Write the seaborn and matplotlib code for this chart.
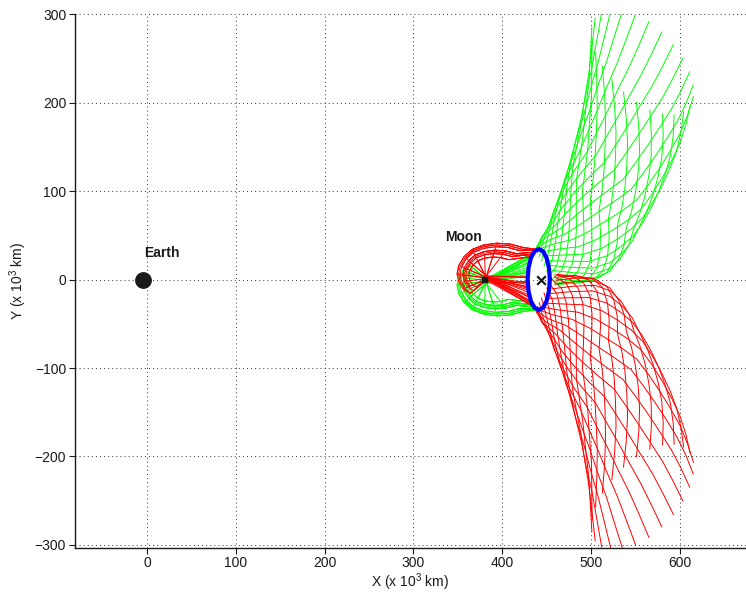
import matplotlib
matplotlib.use("Agg")
import matplotlib.pyplot as plt
import pandas as pd
import seaborn as sns

# ---------------- data (units: 10^3 km) ----------------
X_TICKS = [0, 100, 200, 300, 400, 500, 600]
Y_TICKS = [-300, -200, -100, 0, 100, 200, 300]

EARTH_XY = (-4.7, 0.0)
MOON_XY = (380.0, 0.0)
L2_XY = (444.0, 0.0)
EARTH_LABEL = ("Earth", 16.5, 30.0)
MOON_LABEL = ("Moon", 356.0, 48.6)

# halo orbit about L2 (blue)
HALO_X = [453.5, 452.5, 449.8, 445.8, 441.0, 436.2, 432.2, 429.5, 428.5, 429.5,
          432.2, 436.2, 441.0, 445.8, 449.8, 452.5, 453.5]
HALO_Y = [0.0, 13.2, 24.4, 31.9, 34.5, 31.9, 24.4, 13.2, 0.0, -13.2,
          -24.4, -31.9, -34.5, -31.9, -24.4, -13.2, 0.0]

# unstable manifold, exterior branch (green, upper right)
GREEN_OUT_X = [
    [462, 482.5, 497.3, 506.4, 510, 510.5, 508.9, 512.2, 514.5, 515.7, 516.2, 515.1, 512.6],
    [461.6, 483.8, 501.4, 513, 518.4, 520.3, 519.5, 523.3, 526, 527.4, 528, 526.4, 523.3],
    [460.4, 483.8, 504.1, 518, 525.5, 529.3, 529.8, 534.7, 538, 540.1, 541, 539.5, 536.4],
    [458.5, 482.5, 505, 521, 530.8, 537, 539.5, 545.5, 549.8, 553, 554.5, 553.6, 551],
    [456, 479.9, 504.1, 522, 534.1, 542.7, 547.6, 554.9, 560.5, 564.9, 567.6, 567.8, 566],
    [453.1, 476.2, 501.4, 520.8, 535, 546.1, 553.6, 562.3, 569.4, 575.4, 579.5, 581.1, 580.4],
    [450, 471.7, 497.3, 517.5, 533.5, 547, 557.1, 567.3, 575.8, 583.4, 589.2, 592.4, 593.4],
    [446.9, 466.6, 491.8, 512.3, 529.8, 545.3, 558, 569.6, 579.4, 588.7, 596.1, 601.1, 604.1],
    [444, 461.4, 485.3, 505.6, 524.1, 541.2, 556.1, 568.8, 580, 590.8, 599.8, 606.6, 611.4],
    [441.5, 456.4, 478.5, 497.8, 516.6, 534.8, 551.6, 565.1, 577.4, 589.4, 600, 608.5, 615.2],
    [439.6, 451.8, 471.7, 489.5, 508, 526.7, 544.8, 558.7, 571.8, 584.9, 596.6, 606.7, 615],
    [438.4, 448.2, 465.3, 481.2, 499, 517.4, 536, 550.1, 563.8, 577.4, 590.1, 601.2, 611],
    [438, 445.5, 459.7, 473.6, 490, 507.5, 526, 539.9, 553.5, 567.4, 580.8, 592.5, 603.4],
    [438.4, 444.2, 455.6, 467, 481.6, 497.8, 515.5, 528.7, 542, 555.7, 569.1, 581.2, 592.7],
    [439.6, 444.2, 452.9, 462.1, 474.5, 488.7, 505.1, 517.3, 530, 543, 556, 568.1, 579.6],
    [441.5, 445.5, 452, 459, 469.2, 481, 495.5, 506.6, 518.2, 530.1, 542.5, 554, 565],
    [444, 448.2, 452.9, 458, 465.9, 475.4, 487.4, 497.2, 507.5, 518.2, 529.4, 539.8, 550],
    [446.9, 451.8, 455.6, 459.2, 465, 471.9, 481.4, 489.7, 498.6, 507.7, 517.6, 526.5, 535.6],
    [450, 456.4, 459.7, 462.5, 466.5, 471, 477.9, 484.7, 492.2, 499.7, 507.8, 515.2, 522.6],
    [453.1, 461.4, 465.3, 467.7, 470.2, 472.7, 477, 482.4, 488.6, 494.3, 500.9, 506.5, 511.9],
    [456, 466.6, 471.7, 474.4, 475.9, 476.9, 478.9, 483.2, 488, 492.2, 497.2, 500.9, 504.6],
    [458.5, 471.7, 478.5, 482.2, 483.4, 483.2, 483.4, 486.9, 490.6, 493.6, 497, 499, 500.8],
    [460.4, 476.2, 485.3, 490.5, 492, 491.3, 490.2, 493.3, 496.2, 498.1, 500.4, 500.8, 501],
    [461.6, 479.9, 491.8, 498.7, 501, 500.6, 499, 502, 504.2, 505.7, 506.9, 506.3, 505],
]
GREEN_OUT_Y = [
    [-5, -4.5, 0.6, 13, 31.9, 53.5, 78.1, 100.2, 123.2, 150.5, 178.8, 209.6, 241.5],
    [-2.7, -4, -1.1, 9.2, 26.4, 46.1, 69, 90.2, 112.3, 138.5, 165.6, 195.4, 226.2],
    [0.8, -1.6, -0.6, 8.1, 23.2, 41.2, 62.1, 82.3, 103.5, 128.5, 154.2, 182.6, 212.2],
    [5.2, 2.3, 2, 9.3, 22.9, 38.9, 57.8, 77.2, 97.5, 121.2, 145.5, 172.5, 200.5],
    [10.5, 7.6, 6.6, 13, 25.1, 39.6, 56.5, 75.2, 94.7, 117, 140, 165.4, 192],
    [16, 13.8, 12.9, 18.9, 30, 43, 58.2, 76.3, 95, 116.4, 138.1, 161.9, 187.1],
    [21.5, 20.7, 20.4, 26.6, 37.1, 49, 62.8, 80.5, 98.8, 119.3, 139.8, 162.5, 186.2],
    [26.6, 27.6, 28.6, 35.4, 45.9, 57.2, 70, 87.5, 105.6, 125.4, 145.2, 166.8, 189.4],
    [31, 34.1, 37, 45, 55.8, 67.1, 79.4, 96.9, 115, 134.5, 153.7, 174.8, 196.5],
    [34.2, 39.8, 45, 54.6, 66.2, 77.7, 90.2, 108.1, 126.4, 145.9, 165, 185.6, 206.9],
    [36.3, 44.3, 52, 63.5, 76.3, 88.8, 101.7, 120.1, 138.8, 158.8, 178.1, 198.8, 220],
    [36.9, 47.3, 57.6, 71.2, 85.5, 99.3, 113.2, 132.2, 151.6, 172.3, 192.2, 213.4, 234.9],
    [36, 48.5, 61.4, 77, 93.1, 108.5, 123.9, 143.8, 163.9, 185.4, 206.2, 228.4, 250.5],
    [33.8, 48, 63.1, 80.8, 98.7, 115.9, 133, 153.7, 174.7, 197.4, 219.5, 242.5, 265.8],
    [30.3, 45.6, 62.6, 82, 101.8, 120.8, 139.9, 161.6, 183.5, 207.4, 230.8, 255.3, 279.8],
    [25.8, 41.7, 60, 80.7, 102.1, 123.1, 144.2, 166.8, 189.5, 214.7, 239.5, 265.4, 291.5],
    [20.6, 36.3, 55.4, 77, 99.9, 122.5, 145.6, 168.7, 192.4, 218.9, 245, 272.5, 300],
    [15, 30.1, 49.1, 71.1, 95, 119, 143.9, 167.7, 192, 219.5, 247, 276, 304.9],
    [9.5, 23.2, 41.6, 63.5, 87.9, 113, 139.3, 163.5, 188.2, 216.7, 245.2, 275.4, 305.8],
    [4.4, 16.3, 33.4, 54.6, 79.1, 104.8, 132, 156.5, 181.4, 210.6, 239.8, 271.2, 302.6],
    [0, 9.8, 25, 45, 69.2, 95, 122.7, 147.1, 172, 201.5, 231.3, 263.2, 295.5],
    [-3.3, 4.1, 17, 35.4, 58.9, 84.3, 111.9, 135.9, 160.6, 190.1, 220, 252.4, 285.1],
    [-5.3, -0.4, 10, 26.5, 48.7, 73.2, 100.4, 123.9, 148.2, 177.2, 206.9, 239.2, 272],
    [-5.9, -3.4, 4.4, 18.8, 39.5, 62.7, 88.8, 111.7, 135.4, 163.7, 192.8, 224.6, 257.1],
]

# stable manifold, exterior branch (red, lower right): same x, mirror-image y
RED_OUT_X = GREEN_OUT_X
RED_OUT_Y = [
    [5, 4.5, -0.6, -13, -31.9, -53.5, -78.1, -100.2, -123.2, -150.5, -178.8, -209.6, -241.5],
    [2.7, 4, 1.1, -9.2, -26.4, -46.1, -69, -90.2, -112.3, -138.5, -165.6, -195.4, -226.2],
    [-0.8, 1.6, 0.6, -8.1, -23.2, -41.2, -62.1, -82.3, -103.5, -128.5, -154.2, -182.6, -212.2],
    [-5.2, -2.3, -2, -9.3, -22.9, -38.9, -57.8, -77.2, -97.5, -121.2, -145.5, -172.5, -200.5],
    [-10.5, -7.6, -6.6, -13, -25.1, -39.6, -56.5, -75.2, -94.7, -117, -140, -165.4, -192],
    [-16, -13.8, -12.9, -18.9, -30, -43, -58.2, -76.3, -95, -116.4, -138.1, -161.9, -187.1],
    [-21.5, -20.7, -20.4, -26.6, -37.1, -49, -62.8, -80.5, -98.8, -119.3, -139.8, -162.5, -186.2],
    [-26.6, -27.6, -28.6, -35.4, -45.9, -57.2, -70, -87.5, -105.6, -125.4, -145.2, -166.8, -189.4],
    [-31, -34.1, -37, -45, -55.8, -67.1, -79.4, -96.9, -115, -134.5, -153.7, -174.8, -196.5],
    [-34.2, -39.8, -45, -54.6, -66.2, -77.7, -90.2, -108.1, -126.4, -145.9, -165, -185.6, -206.9],
    [-36.3, -44.3, -52, -63.5, -76.3, -88.8, -101.7, -120.1, -138.8, -158.8, -178.1, -198.8, -220],
    [-36.9, -47.3, -57.6, -71.2, -85.5, -99.3, -113.2, -132.2, -151.6, -172.3, -192.2, -213.4, -234.9],
    [-36, -48.5, -61.4, -77, -93.1, -108.5, -123.9, -143.8, -163.9, -185.4, -206.2, -228.4, -250.5],
    [-33.8, -48, -63.1, -80.8, -98.7, -115.9, -133, -153.7, -174.7, -197.4, -219.5, -242.5, -265.8],
    [-30.3, -45.6, -62.6, -82, -101.8, -120.8, -139.9, -161.6, -183.5, -207.4, -230.8, -255.3, -279.8],
    [-25.8, -41.7, -60, -80.7, -102.1, -123.1, -144.2, -166.8, -189.5, -214.7, -239.5, -265.4, -291.5],
    [-20.6, -36.3, -55.4, -77, -99.9, -122.5, -145.6, -168.7, -192.4, -218.9, -245, -272.5, -300],
    [-15, -30.1, -49.1, -71.1, -95, -119, -143.9, -167.7, -192, -219.5, -247, -276, -304.9],
    [-9.5, -23.2, -41.6, -63.5, -87.9, -113, -139.3, -163.5, -188.2, -216.7, -245.2, -275.4, -305.8],
    [-4.4, -16.3, -33.4, -54.6, -79.1, -104.8, -132, -156.5, -181.4, -210.6, -239.8, -271.2, -302.6],
    [0, -9.8, -25, -45, -69.2, -95, -122.7, -147.1, -172, -201.5, -231.3, -263.2, -295.5],
    [3.3, -4.1, -17, -35.4, -58.9, -84.3, -111.9, -135.9, -160.6, -190.1, -220, -252.4, -285.1],
    [5.3, 0.4, -10, -26.5, -48.7, -73.2, -100.4, -123.9, -148.2, -177.2, -206.9, -239.2, -272],
    [5.9, 3.4, -4.4, -18.8, -39.5, -62.7, -88.8, -111.7, -135.4, -163.7, -192.8, -224.6, -257.1],
]

# unstable manifold, interior branch looping round the Moon (green, lower left)
GREEN_IN_X = [
    [440, 424, 409, 394, 379, 366, 357, 351, 349, 351, 356, 364, 381, 404, 429],
    [440, 424, 409, 394, 379, 366, 357, 351, 349, 382, 436],
    [440, 424, 409, 394, 379, 366, 381, 432],
    [438, 419.8, 406.3, 392.8, 379.3, 367.6, 359.5, 354.1, 352.3, 354.1, 358.6, 382, 405, 431],
    [438, 419.8, 406.3, 392.8, 379.3, 367.6, 359.5, 354.1, 383, 430],
    [438, 419.8, 406.3, 392.8, 382, 429],
    [437, 415.6, 403.6, 391.6, 379.6, 369.2, 362, 357.2, 355.6, 357.2, 361.2, 367.6, 381, 404, 433],
    [437, 415.6, 403.6, 391.6, 379.6, 369.2, 362, 357.2, 355.6, 357.2, 382, 438],
    [437, 415.6, 403.6, 391.6, 379.6, 369.2, 362, 383, 434],
    [437, 415.6, 403.6, 382, 429],
    [436, 411.4, 400.9, 390.4, 379.9, 370.8, 364.5, 360.3, 358.9, 360.3, 363.8, 382, 405, 437],
    [436, 411.4, 400.9, 390.4, 379.9, 370.8, 364.5, 360.3, 383, 431],
    [436, 411.4, 400.9, 390.4, 379.9, 381, 430],
    [434, 407.2, 398.2, 389.2, 380.2, 372.4, 367, 363.4, 362.2, 363.4, 366.4, 371.2, 382, 404, 430],
    [434, 407.2, 398.2, 389.2, 380.2, 372.4, 367, 363.4, 362.2, 383, 433],
    [434, 407.2, 398.2, 389.2, 380.2, 372.4, 382, 429],
    [439, 421.9, 407.7, 393.4, 379.2, 366.8, 358.3, 352.6, 350.7, 352.6, 357.3, 364.9, 382, 435],
    [439, 421.9, 407.7, 393.4, 379.2, 366.8, 358.3, 383, 430],
    [435, 413.5, 402.3, 391, 379.8, 370, 363.3, 358.8, 357.3, 358.8, 362.5, 382, 432],
    [435, 413.5, 402.3, 391, 382, 429],
]
GREEN_IN_Y = [
    [-34, -36, -40, -41, -39, -34, -26, -16, -6, 3, 11, 16, -1, 3, 8],
    [-34, -36, -40, -41, -39, -34, -26, -16, -6, -2, 31],
    [-34, -36, -40, -41, -39, -34, -3, 24],
    [-33, -32.6, -36.2, -37.1, -35.3, -30.8, -23.6, -14.6, -5.6, 2.5, 9.7, 0, 5, 15],
    [-33, -32.6, -36.2, -37.1, -35.3, -30.8, -23.6, -14.6, -2, 12],
    [-33, -32.6, -36.2, -37.1, -3, 4],
    [-31, -29.2, -32.4, -33.2, -31.6, -27.6, -21.2, -13.2, -5.2, 2, 8.4, 12.4, 0, 6, 22],
    [-31, -29.2, -32.4, -33.2, -31.6, -27.6, -21.2, -13.2, -5.2, 2, -1, 33],
    [-31, -29.2, -32.4, -33.2, -31.6, -27.6, -21.2, -3, 28],
    [-31, -29.2, -32.4, -4, -3],
    [-29, -25.8, -28.6, -29.3, -27.9, -24.4, -18.8, -11.8, -4.8, 1.5, 7.1, 0, 8, 29],
    [-29, -25.8, -28.6, -29.3, -27.9, -24.4, -18.8, -11.8, -2, 18],
    [-29, -25.8, -28.6, -29.3, -27.9, -3, 6],
    [-26, -22.4, -24.8, -25.4, -24.2, -21.2, -16.4, -10.4, -4.4, 1, 5.8, 8.8, 1, 4, 2],
    [-26, -22.4, -24.8, -25.4, -24.2, -21.2, -16.4, -10.4, -4.4, -1, 26],
    [-26, -22.4, -24.8, -25.4, -24.2, -21.2, -3, 10],
    [-33, -34.3, -38.1, -39.1, -37.2, -32.4, -24.8, -15.3, -5.8, 2.8, 10.4, 15.1, 1, 30],
    [-33, -34.3, -38.1, -39.1, -37.2, -32.4, -24.8, -3, 9],
    [-28, -27.5, -30.5, -31.3, -29.8, -26, -20, -12.5, -5, 1.8, 7.8, 0, 20],
    [-28, -27.5, -30.5, -31.3, -4, -2],
]

# stable manifold, interior branch (red, upper left): same x, mirror-image y
RED_IN_X = GREEN_IN_X
RED_IN_Y = [
    [34, 36, 40, 41, 39, 34, 26, 16, 6, -3, -11, -16, 1, -3, -8],
    [34, 36, 40, 41, 39, 34, 26, 16, 6, 2, -31],
    [34, 36, 40, 41, 39, 34, 3, -24],
    [33, 32.6, 36.2, 37.1, 35.3, 30.8, 23.6, 14.6, 5.6, -2.5, -9.7, 0, -5, -15],
    [33, 32.6, 36.2, 37.1, 35.3, 30.8, 23.6, 14.6, 2, -12],
    [33, 32.6, 36.2, 37.1, 3, -4],
    [31, 29.2, 32.4, 33.2, 31.6, 27.6, 21.2, 13.2, 5.2, -2, -8.4, -12.4, 0, -6, -22],
    [31, 29.2, 32.4, 33.2, 31.6, 27.6, 21.2, 13.2, 5.2, -2, 1, -33],
    [31, 29.2, 32.4, 33.2, 31.6, 27.6, 21.2, 3, -28],
    [31, 29.2, 32.4, 4, 3],
    [29, 25.8, 28.6, 29.3, 27.9, 24.4, 18.8, 11.8, 4.8, -1.5, -7.1, 0, -8, -29],
    [29, 25.8, 28.6, 29.3, 27.9, 24.4, 18.8, 11.8, 2, -18],
    [29, 25.8, 28.6, 29.3, 27.9, 3, -6],
    [26, 22.4, 24.8, 25.4, 24.2, 21.2, 16.4, 10.4, 4.4, -1, -5.8, -8.8, -1, -4, -2],
    [26, 22.4, 24.8, 25.4, 24.2, 21.2, 16.4, 10.4, 4.4, 1, -26],
    [26, 22.4, 24.8, 25.4, 24.2, 21.2, 3, -10],
    [33, 34.3, 38.1, 39.1, 37.2, 32.4, 24.8, 15.3, 5.8, -2.8, -10.4, -15.1, -1, -30],
    [33, 34.3, 38.1, 39.1, 37.2, 32.4, 24.8, 3, -9],
    [28, 27.5, 30.5, 31.3, 29.8, 26, 20, 12.5, 5, -1.8, -7.8, 0, -20],
    [28, 27.5, 30.5, 31.3, 4, 2],
]


def long_table(xs, ys, tag):
    rows = []
    for i, (cx, cy) in enumerate(zip(xs, ys)):
        for k, (px, py) in enumerate(zip(cx, cy)):
            rows.append((f"{tag}{i:02d}", k, px, py))
    return pd.DataFrame(rows, columns=["traj", "step", "x", "y"])


# ---------------- styling ----------------
sns.set_theme(style="white")
plt.rcParams["font.family"] = ["Liberation Sans", "DejaVu Sans"]
plt.rcParams["mathtext.default"] = "regular"

fig = plt.figure(figsize=(7.46, 5.95), dpi=100)
ax = fig.add_axes([74.5 / 746, 47 / 595, (746 - 74.5) / 746, (548 - 13.5) / 595])

GREEN = "#00ff00"
RED = "#ff0000"
BLUE = "#0000ff"

for xs, ys, tag, col in [
    (GREEN_OUT_X, GREEN_OUT_Y, "go", GREEN),
    (GREEN_IN_X, GREEN_IN_Y, "gi", GREEN),
    (RED_OUT_X, RED_OUT_Y, "ro", RED),
    (RED_IN_X, RED_IN_Y, "ri", RED),
]:
    df = long_table(xs, ys, tag)
    sns.lineplot(data=df, x="x", y="y", units="traj", estimator=None, sort=False,
                 color=col, lw=0.7, ax=ax, legend=False)

halo = pd.DataFrame({"x": HALO_X, "y": HALO_Y})
sns.lineplot(data=halo, x="x", y="y", sort=False, estimator=None, color=BLUE,
             lw=3.0, ax=ax, legend=False, solid_joinstyle="round")

sns.scatterplot(x=[EARTH_XY[0]], y=[EARTH_XY[1]], s=125, color="k",
                edgecolor="k", ax=ax, zorder=5, legend=False)
sns.scatterplot(x=[MOON_XY[0]], y=[MOON_XY[1]], s=14, marker="s", color="k",
                edgecolor="k", ax=ax, zorder=5, legend=False)
sns.scatterplot(x=[L2_XY[0]], y=[L2_XY[1]], s=38, marker="x", color="k",
                linewidth=1.6, ax=ax, zorder=5, legend=False)

for label, tx, ty in (EARTH_LABEL, MOON_LABEL):
    ax.text(tx, ty, label, ha="center", va="center", fontsize=10,
            fontweight="bold", color="k")

ax.set_xlim(-81.6, 674.3)
ax.set_ylim(-303.4, 300.6)
ax.set_xticks(X_TICKS)
ax.set_yticks(Y_TICKS)
ax.set_xticklabels([str(v) for v in X_TICKS])
ax.set_yticklabels([str(v).replace("-", "\u2212") for v in Y_TICKS])

ax.grid(True, linestyle=(0, (1, 3.2)), color="#333333", lw=0.7)
ax.set_axisbelow(True)
for side in ("top", "right"):
    ax.spines[side].set_visible(False)
for side in ("left", "bottom"):
    ax.spines[side].set_color("k")
    ax.spines[side].set_linewidth(1.0)
ax.tick_params(axis="both", which="major", bottom=True, left=True,
               direction="out", length=4, width=0.8, color="k",
               labelsize=10, labelcolor="k", pad=2)

ax.set_xlabel("X (x 10$^3$ km)", fontsize=10, color="k", labelpad=1)
ax.set_ylabel("Y (x 10$^3$ km)", fontsize=10, color="k", labelpad=4)

fig.savefig("out.png", dpi=100)
